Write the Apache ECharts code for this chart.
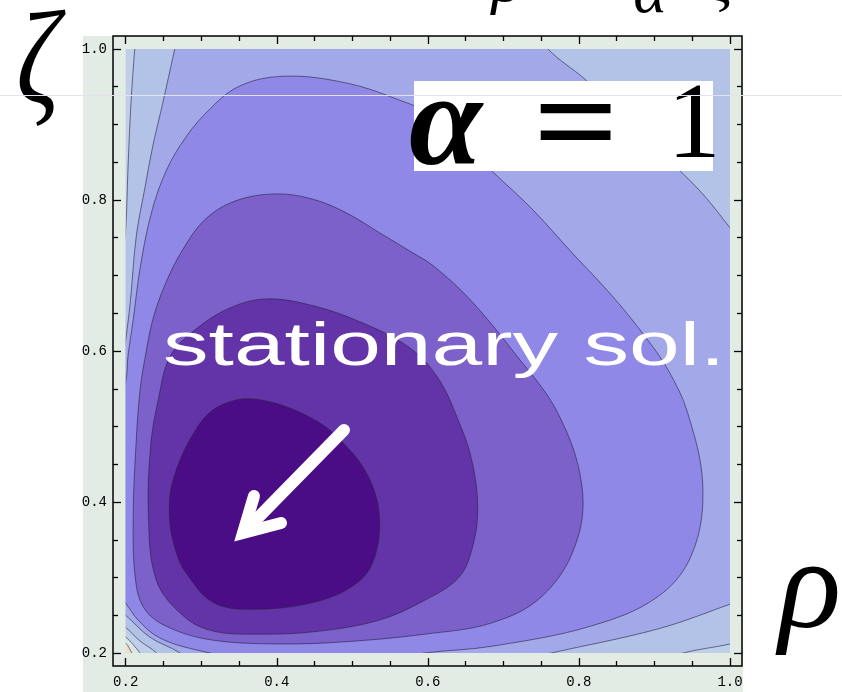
<!DOCTYPE html>
<html>
<head>
<meta charset="utf-8">
<title>Contour plot, α = 1</title>
<script src="https://cdn.jsdelivr.net/npm/echarts@6/dist/echarts.min.js"></script>
<style>
  html, body { margin: 0; padding: 0; background: #ffffff; }
  #chart { width: 842px; height: 692px; }
</style>
</head>
<body>
<div id="chart"></div>
<script>
// ---- axes ---------------------------------------------------------------
const rhoRange  = [0.1832, 1.0159];   // horizontal axis (ρ); the field spans 0.2 … 1.0
const zetaRange = [0.1828, 1.0172];   // vertical axis (ζ)
const fieldLo = 0.2, fieldHi = 1.0;
const majorTicks = [0.2, 0.4, 0.6, 0.8, 1.0];
const minorTicks = [0.25, 0.3, 0.35, 0.45, 0.5, 0.55, 0.65, 0.7, 0.75, 0.85, 0.9, 0.95];
const tickLabels = ['0.2', '0.4', '0.6', '0.8', '1.0'];

// ---- iso-lines as [ρ, ζ] vertices, from the minimum outward ---------------
// closed rings around the stationary point
const levelA = [[0.373,0.536],[0.448,0.510],[0.492,0.474],[0.523,0.430],[0.536,0.377],[0.527,0.320],
  [0.501,0.289],[0.448,0.267],[0.368,0.258],[0.316,0.267],[0.280,0.306],[0.267,0.333],[0.258,0.379],
  [0.263,0.430],[0.293,0.496],[0.324,0.527]];
const levelB = [[0.386,0.669],[0.448,0.660],[0.514,0.637],[0.575,0.605],[0.613,0.565],[0.640,0.509],
  [0.658,0.456],[0.666,0.391],[0.658,0.336],[0.640,0.299],[0.596,0.270],[0.537,0.244],[0.457,0.229],
  [0.378,0.225],[0.312,0.230],[0.272,0.253],[0.240,0.298],[0.230,0.385],[0.233,0.474],[0.243,0.535],
  [0.259,0.593],[0.293,0.629],[0.338,0.657]];
const levelC = [[0.226,0.593],[0.236,0.642],[0.253,0.690],[0.276,0.735],[0.306,0.775],[0.346,0.799],
  [0.399,0.808],[0.448,0.801],[0.492,0.783],[0.537,0.756],[0.580,0.730],[0.607,0.713],[0.656,0.668],
  [0.715,0.597],[0.772,0.518],[0.804,0.421],[0.795,0.342],[0.751,0.275],[0.685,0.240],[0.596,0.225],
  [0.492,0.215],[0.404,0.212],[0.316,0.217],[0.259,0.233],[0.226,0.257],[0.213,0.297],[0.210,0.385],
  [0.214,0.482],[0.219,0.548]];
// open lines that leave the field
const levelD = [
  [[0.186,0.520],[0.200,0.560],[0.203,0.593],[0.210,0.642],[0.219,0.709],[0.232,0.775],[0.249,0.828],
   [0.272,0.872],[0.306,0.915],[0.351,0.951],[0.412,0.964],[0.492,0.955],[0.558,0.934],[0.607,0.911],
   [0.685,0.838],[0.738,0.788],[0.791,0.730],[0.844,0.673],[0.887,0.620],[0.918,0.575],[0.944,0.518],
   [0.964,0.421],[0.950,0.332],[0.905,0.275],[0.817,0.236],[0.685,0.209],[0.596,0.200],[0.540,0.190]],
  [[0.378,0.188],[0.298,0.203],[0.245,0.220],[0.216,0.244],[0.200,0.266],[0.188,0.280]]
];
const levelE = [
  [[0.755,1.015],[0.759,1.000],[0.808,0.960],[0.861,0.911],[0.914,0.858],[0.963,0.809],[1.001,0.762],[1.013,0.747]],
  [[1.013,0.270],[1.001,0.265],[0.905,0.232],[0.759,0.199],[0.722,0.190]],
  [[0.279,0.190],[0.272,0.200],[0.232,0.221],[0.200,0.250],[0.190,0.257]],
  [[0.192,0.562],[0.200,0.615],[0.206,0.664],[0.214,0.752],[0.226,0.819],[0.236,0.872],[0.249,0.928],[0.265,1.000],[0.269,1.015]]
];
const levelF = [
  [[1.013,0.216],[1.001,0.212],[0.934,0.199],[0.921,0.190]],
  [[0.247,0.190],[0.241,0.200],[0.219,0.216],[0.200,0.234],[0.190,0.241]],
  [[0.195,0.721],[0.200,0.762],[0.203,0.841],[0.207,0.928],[0.212,1.000],[0.214,1.015]]
];
const levelG = [[0.226,0.190],[0.219,0.200],[0.210,0.211],[0.200,0.221],[0.190,0.226]];
const levelH = [[0.212,0.190],[0.208,0.200],[0.200,0.213],[0.190,0.217]];

// band fills, darkest (inside levelA) to lightest (beyond levelH)
const bandColors = ['#4b0d86', '#6333a8', '#7b61c9', '#8f88e6', '#a3a8e9', '#b3c3e7', '#bfcfe7', '#dbe5e6', '#f3dccb'];
const isoStroke = 'rgba(38,34,66,0.6)';

// ---- chart ----------------------------------------------------------------
const chart = echarts.init(document.getElementById('chart'), null, { renderer: 'canvas' });

const tickFont = { fontFamily: '"Liberation Mono", monospace', fontSize: 14, color: '#000' };
const labelFor = v => {
  const i = majorTicks.findIndex(t => Math.abs(t - v) < 1e-6);
  return i >= 0 ? tickLabels[i] : '';
};
function makeAxis(range, position, ticks, len, withLabels, margin) {
  return {
    type: 'value', min: range[0], max: range[1], position,
    splitLine: { show: false },
    axisLine: { show: false },
    axisTick: { show: true, inside: true, length: len, customValues: ticks,
                lineStyle: { color: '#000', width: 1.3 } },
    axisLabel: withLabels
      ? Object.assign({ show: true, customValues: ticks, formatter: labelFor, margin }, tickFont)
      : { show: false }
  };
}

// outer closure corners, well outside the visible field
const OUT_LO = 0.16, OUT_HI = 1.04;

// smooth cubic path through pixel points (tangent = neighbour chord)
function smoothPath(pts, closed) {
  const n = pts.length;
  const get = i => closed ? pts[((i % n) + n) % n] : pts[Math.max(0, Math.min(n - 1, i))];
  const tangent = i => {
    const a = get(i - 1), b = get(i + 1);
    const dx = b[0] - a[0], dy = b[1] - a[1];
    const len = Math.hypot(dx, dy) || 1;
    return [dx / len, dy / len];
  };
  let d = 'M' + pts[0][0].toFixed(2) + ' ' + pts[0][1].toFixed(2);
  const segs = closed ? n : n - 1;
  for (let i = 0; i < segs; i++) {
    const p = get(i), q = get(i + 1);
    const h = Math.hypot(q[0] - p[0], q[1] - p[1]) * 0.36;
    const t0 = tangent(i), t1 = tangent(i + 1);
    d += ' C' + (p[0] + t0[0] * h).toFixed(2) + ' ' + (p[1] + t0[1] * h).toFixed(2) + ' ' +
         (q[0] - t1[0] * h).toFixed(2) + ' ' + (q[1] - t1[1] * h).toFixed(2) + ' ' +
         q[0].toFixed(2) + ' ' + q[1].toFixed(2);
  }
  if (closed) d += ' Z';
  return d;
}

function renderField(params, api) {
  const P = pts => pts.map(p => api.coord(p));
  const lo = api.coord([fieldLo, fieldLo]);
  const hi = api.coord([fieldHi, fieldHi]);
  const kids = [];
  const fill = (ringPts, color) => kids.push({
    type: 'path', shape: { pathData: smoothPath(P(ringPts), true) }, style: { fill: color }
  });
  const line = (pts, closed) => kids.push({
    type: 'path', shape: { pathData: smoothPath(P(pts), closed) },
    style: { stroke: isoStroke, lineWidth: 1, fill: 'none' }
  });

  // lightest band covers the whole field
  kids.push({ type: 'rect', shape: { x: lo[0], y: hi[1], width: hi[0] - lo[0], height: lo[1] - hi[1] },
              style: { fill: bandColors[8] } });
  const cornerCut = c => c.concat([[OUT_LO, OUT_HI], [OUT_HI, OUT_HI], [OUT_HI, OUT_LO]]);
  fill(cornerCut(levelH), bandColors[7]);
  fill(cornerCut(levelG), bandColors[6]);
  fill([[OUT_HI, OUT_HI]].concat(levelF[0], levelF[1], levelF[2]), bandColors[5]);
  fill([].concat(levelE[0], levelE[1], levelE[2], levelE[3]), bandColors[4]);
  fill([].concat(levelD[0], levelD[1]), bandColors[3]);
  fill(levelC, bandColors[2]);
  fill(levelB, bandColors[1]);
  fill(levelA, bandColors[0]);

  [levelH, levelG].forEach(c => line(c, false));
  levelF.forEach(c => line(c, false));
  levelE.forEach(c => line(c, false));
  levelD.forEach(c => line(c, false));
  [levelC, levelB, levelA].forEach(c => line(c, true));

  return {
    type: 'group',
    clipPath: { type: 'rect', shape: { x: lo[0], y: hi[1], width: hi[0] - lo[0], height: lo[1] - hi[1] } },
    children: kids
  };
}

const serifFace = '"Liberation Serif", "DejaVu Serif", serif';
const font = (style, size) => style + ' ' + size + 'px ' + serifFace;

const option = {
  animation: false,
  backgroundColor: '#ffffff',
  grid: { left: 113, top: 36, width: 629, height: 630, show: true,
          borderColor: '#000', borderWidth: 1.5, backgroundColor: 'transparent' },
  xAxis: [
    makeAxis(rhoRange, 'bottom', majorTicks, 8, true, 9),
    makeAxis(rhoRange, 'bottom', minorTicks, 5, false),
    makeAxis(rhoRange, 'top', majorTicks, 8, false),
    makeAxis(rhoRange, 'top', minorTicks, 5, false)
  ],
  yAxis: [
    makeAxis(zetaRange, 'left', majorTicks, 8, true, 6),
    makeAxis(zetaRange, 'left', minorTicks, 5, false),
    makeAxis(zetaRange, 'right', majorTicks, 8, false),
    makeAxis(zetaRange, 'right', minorTicks, 5, false)
  ],
  series: [{
    type: 'custom',
    coordinateSystem: 'cartesian2d',
    xAxisIndex: 0, yAxisIndex: 0,
    data: [[fieldLo, fieldLo]],
    renderItem: renderField,
    silent: true
  }],
  graphic: [
    // frame background
    { type: 'rect', z: -10, shape: { x: 83, y: 36, width: 660, height: 656 }, style: { fill: '#e2ece5' } },
    // formula fragment running off the top edge
    { type: 'text', z: 100, x: 507, y: -16, style: { text: 'ρ', font: font('italic', 64), fill: '#000', textAlign: 'center', textVerticalAlign: 'middle' } },
    { type: 'text', z: 100, x: 592, y: -10, style: { text: '+', font: font('normal', 64), fill: '#000', textAlign: 'center', textVerticalAlign: 'middle' } },
    { type: 'text', z: 100, x: 650, y: -5, style: { text: 'α', font: font('italic', 64), fill: '#000', textAlign: 'center', textVerticalAlign: 'middle' } },
    { type: 'text', z: 100, x: 720, y: -16, style: { text: 'ζ', font: font('italic', 64), fill: '#000', textAlign: 'center', textVerticalAlign: 'middle' } },
    // axis names
    { type: 'text', z: 100, x: 38, y: 68, scaleX: 0.8, style: { text: 'ζ', font: font('italic', 134), fill: '#000', textAlign: 'center', textVerticalAlign: 'middle' } },
    { type: 'text', z: 100, x: 810, y: 593, style: { text: 'ρ', font: font('italic', 130), fill: '#000', textAlign: 'center', textVerticalAlign: 'middle' } },
    // parameter box
    { type: 'rect', z: 100, shape: { x: 414, y: 81, width: 299, height: 90 }, style: { fill: '#ffffff' } },
    { type: 'text', z: 101, x: 409, y: 130, style: { text: 'α', font: font('bold italic', 132), fill: '#000', textAlign: 'left', textVerticalAlign: 'middle' } },
    { type: 'text', z: 101, x: 576, y: 131, scaleX: 1.12, style: { text: '=', font: font('bold', 134), fill: '#000', textAlign: 'center', textVerticalAlign: 'middle' } },
    { type: 'text', z: 101, x: 694, y: 129, style: { text: '1', font: font('normal', 107), fill: '#000', textAlign: 'center', textVerticalAlign: 'middle' } },
    // annotation
    { type: 'text', z: 100, x: 163, y: 348, scaleX: 1.47, style: { text: 'stationary sol.', font: '62px "Liberation Sans", Arial, sans-serif', fill: '#ffffff', textAlign: 'left', textVerticalAlign: 'middle' } },
    { type: 'polyline', z: 100, shape: { points: [[344, 430], [246, 530]] }, style: { stroke: '#ffffff', lineWidth: 12, lineCap: 'round', fill: 'none' } },
    { type: 'polyline', z: 100, shape: { points: [[254, 496], [243, 533], [281, 523]] }, style: { stroke: '#ffffff', lineWidth: 12, lineCap: 'round', lineJoin: 'miter', miterLimit: 10, fill: 'none' } },
    // thin light rule across the page
    { type: 'line', z: 110, shape: { x1: 0, y1: 95.5, x2: 842, y2: 95.5 }, style: { stroke: '#e4e2ee', lineWidth: 1 } }
  ]
};

chart.setOption(option);
</script>
</body>
</html>
